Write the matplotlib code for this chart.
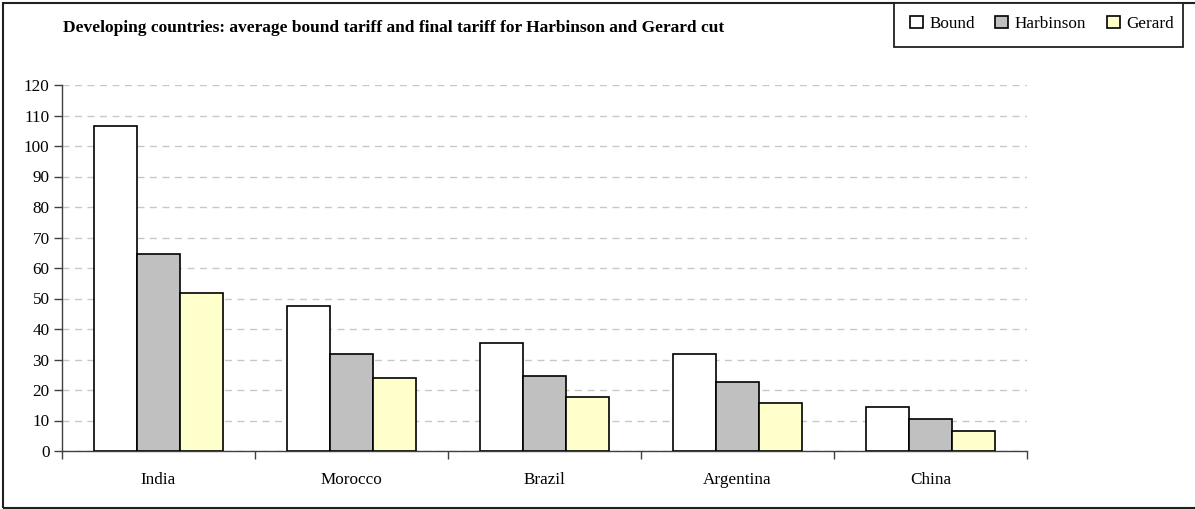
import matplotlib.pyplot as plt
import numpy as np
from matplotlib.patches import Rectangle

# data
countries = ['India', 'Morocco', 'Brazil', 'Argentina', 'China']
bound = [106.6, 47.6, 35.3, 31.8, 14.3]
harbinson = [64.6, 31.9, 24.7, 22.5, 10.5]
gerard = [51.8, 23.8, 17.6, 15.7, 6.7]

series = [('Bound', bound, '#ffffff'),
          ('Harbinson', harbinson, '#c0c0c0'),
          ('Gerard', gerard, '#ffffcc')]

plt.rcParams['font.family'] = ['Liberation Serif', 'DejaVu Serif']

fig = plt.figure(figsize=(11.95, 5.09), dpi=100)
ax = fig.add_axes([62 / 1195, 1 - 451 / 509, 965 / 1195, 366 / 509])

x = np.arange(len(countries))
w = 0.224
for i, (name, vals, col) in enumerate(series):
    ax.bar(x + (i - 1) * w, vals, w, color=col, edgecolor='black',
           linewidth=1.2, label=name, zorder=3)

ax.set_xlim(-0.5, len(countries) - 0.5)
ax.set_ylim(0, 120)
ax.set_yticks(np.arange(0, 121, 10))
ax.set_xticks(np.arange(-0.5, len(countries), 1))
ax.set_xticklabels([])
ax.set_xticks(x, minor=True)
ax.set_xticklabels(countries, minor=True)
ax.tick_params(axis='x', which='minor', length=0, pad=15, labelsize=12.3)
ax.tick_params(axis='x', which='major', length=6, direction='out', width=1, color='#404040')
ax.tick_params(axis='y', length=6, direction='out', width=1, color='#404040', labelsize=12.3, pad=3)

ax.grid(axis='y', linestyle=(0, (5, 4)), color='#c8c8c8', linewidth=1, zorder=0)
for s in ['top', 'right']:
    ax.spines[s].set_visible(False)
for s in ['left', 'bottom']:
    ax.spines[s].set_color('#404040')
    ax.spines[s].set_linewidth(1)

fig.text(63 / 1195, 1 - 28 / 509, 'Developing countries: average bound tariff and final tariff for Harbinson and Gerard cut',
         fontsize=12.5, fontweight='bold', va='center', ha='left')

# outer border
fig.patches.append(Rectangle((3 / 1195, 1 / 509), 1.2, 505 / 509, transform=fig.transFigure,
                             fill=False, edgecolor='#202020', linewidth=1.5))
# legend box
fig.patches.append(Rectangle((894 / 1195, 1 - 47 / 509), 289 / 1195, 44 / 509, transform=fig.transFigure,
                             facecolor='white', edgecolor='#202020', linewidth=1.3, zorder=5))

leg = fig.legend(loc='center', bbox_to_anchor=(1042 / 1195, 1 - 24 / 509), ncol=3,
                 fontsize=12.3, frameon=False,
                 handlelength=0.75, handleheight=0.75, handletextpad=0.4,
                 columnspacing=1.2)
leg.set_zorder(6)

plt.savefig('out.png', dpi=100)
